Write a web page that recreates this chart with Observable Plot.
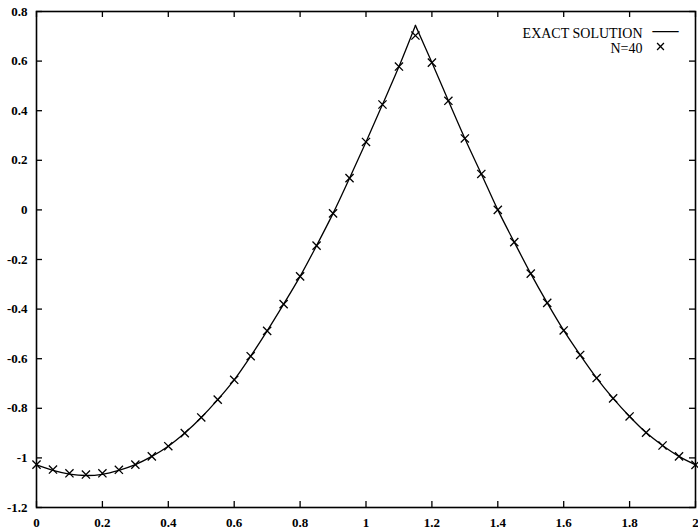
<!DOCTYPE html>
<html><head><meta charset="utf-8">
<script src="https://cdn.jsdelivr.net/npm/d3@7"></script>
<script src="https://cdn.jsdelivr.net/npm/@observablehq/plot@0.6"></script>
<style>body{margin:0;background:#fff;} #chart svg{display:block;}</style>
</head><body><div id="chart"></div>
<script>
const xGrid = [0, 0.05, 0.1, 0.15, 0.2, 0.25, 0.3, 0.35, 0.4, 0.45, 0.5, 0.55, 0.6, 0.65, 0.7, 0.75, 0.8, 0.85, 0.9, 0.95,
  1.0, 1.05, 1.1, 1.15, 1.2, 1.25, 1.3, 1.35, 1.4, 1.45, 1.5, 1.55, 1.6, 1.65, 1.7, 1.75, 1.8, 1.85, 1.9, 1.95, 2.0];
const exactSolution = [-1.028, -1.050, -1.065, -1.071, -1.066, -1.050, -1.027, -0.994, -0.953, -0.900, -0.837, -0.765, -0.685, -0.590, -0.488, -0.380, -0.268, -0.144, -0.014, 0.128,
  0.274, 0.425, 0.578, 0.744, 0.594, 0.440, 0.288, 0.145, 0.000, -0.130, -0.257, -0.375, -0.486, -0.585, -0.678, -0.760, -0.833, -0.898, -0.950, -0.994, -1.028];
const approxN40 = [-1.027, -1.047, -1.062, -1.067, -1.062, -1.048, -1.027, -0.994, -0.953, -0.900, -0.837, -0.765, -0.685, -0.590, -0.488, -0.380, -0.268, -0.144, -0.014, 0.128,
  0.274, 0.425, 0.578, 0.703, 0.594, 0.440, 0.288, 0.145, 0.000, -0.130, -0.257, -0.375, -0.486, -0.585, -0.678, -0.760, -0.833, -0.898, -0.950, -0.994, -1.028];
const peakX = 1.15;
const xTicks = [0, 0.2, 0.4, 0.6, 0.8, 1, 1.2, 1.4, 1.6, 1.8, 2];
const yTicks = [-1.2, -1, -0.8, -0.6, -0.4, -0.2, 0, 0.2, 0.4, 0.6, 0.8];
const legendLabels = ["EXACT SOLUTION", "N=40"];

const W = 698, H = 532, mL = 36, mR = 3, mT = 11, mB = 25;
const innerW = W - mL - mR, innerH = H - mT - mB, tick = 6;
const serif = "'Liberation Serif', 'DejaVu Serif', serif";

const exactRows = [];
xGrid.forEach((x, i) => {
  if (x <= peakX) exactRows.push({x, y: exactSolution[i], seg: "L"});
  if (x >= peakX) exactRows.push({x, y: exactSolution[i], seg: "R"});
});
const nRows = xGrid.map((x, i) => ({x, y: approxN40[i]}));

const chart = Plot.plot({
  width: W, height: H,
  marginLeft: mL, marginRight: mR, marginTop: mT, marginBottom: mB,
  style: {fontFamily: serif, background: "#fff", color: "#000"},
  x: {domain: [0, 2], axis: null},
  y: {domain: [-1.2, 0.8], axis: null},
  marks: [
    Plot.axisX(xTicks, {anchor: "bottom", tickSize: 0, tickPadding: 10, tickFormat: d => String(d), fontSize: 13, fontWeight: "bold", label: null}),
    Plot.axisY(yTicks, {anchor: "left", tickSize: 0, tickPadding: 9, tickFormat: d => String(d), fontSize: 13, fontWeight: "bold", label: null}),
    Plot.tickX(xTicks, {x: d => d, insetTop: innerH - tick, stroke: "black", strokeWidth: 1.3}),
    Plot.tickX(xTicks, {x: d => d, insetBottom: innerH - tick, stroke: "black", strokeWidth: 1.3}),
    Plot.tickY(yTicks, {y: d => d, insetRight: innerW - tick, stroke: "black", strokeWidth: 1.3}),
    Plot.tickY(yTicks, {y: d => d, insetLeft: innerW - tick, stroke: "black", strokeWidth: 1.3}),
    Plot.frame({stroke: "black", strokeWidth: 1.6}),
    Plot.line(exactRows, {x: "x", y: "y", z: "seg", curve: "catmull-rom", stroke: "black", strokeWidth: 1.3}),
    Plot.dot(nRows, {x: "x", y: "y", symbol: "times", r: 3.8, stroke: "black", strokeWidth: 1.3}),
    // legend
    Plot.text([legendLabels[0]], {text: d => d, frameAnchor: "top-right", dx: -53, dy: 17, textAnchor: "end", fontSize: 14, fontFamily: serif, fill: "black"}),
    Plot.text([legendLabels[1]], {text: d => d, frameAnchor: "top-right", dx: -53, dy: 32, textAnchor: "end", fontSize: 14, fontFamily: serif, fill: "black"}),
    Plot.text(["\u2014"], {text: d => d, frameAnchor: "top-right", dx: -43, dy: 8, textAnchor: "start", fontSize: 26, fontFamily: serif, fill: "black"}),
    Plot.dot([legendLabels[1]], {frameAnchor: "top-right", dx: -35, dy: 35, symbol: "times", r: 3.2, stroke: "black", strokeWidth: 1.3})
  ]
});
document.getElementById("chart").appendChild(chart);
</script>
</body></html>
